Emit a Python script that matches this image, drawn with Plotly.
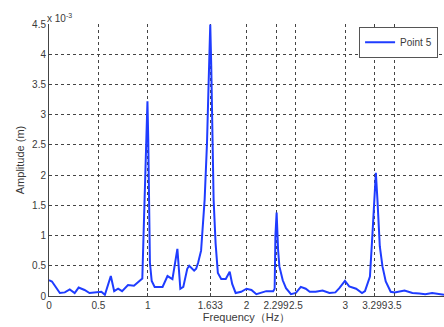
import plotly.graph_objects as go

# Frequency (Hz)
freq = [0.0, 0.03, 0.11, 0.16, 0.21, 0.26, 0.30, 0.36, 0.41, 0.47, 0.53, 0.566,
        0.60, 0.626, 0.66, 0.70, 0.74, 0.80, 0.86, 0.92, 0.945, 0.96, 0.985, 0.997,
        1.005, 1.015, 1.022, 1.04, 1.07, 1.15, 1.20, 1.25, 1.28, 1.30, 1.33, 1.36,
        1.40, 1.42, 1.47, 1.49, 1.51, 1.54, 1.576, 1.60, 1.616, 1.633, 1.643, 1.653,
        1.667, 1.687, 1.71, 1.744, 1.79, 1.83, 1.855, 1.89, 1.946, 2.0, 2.05, 2.1,
        2.15, 2.2, 2.27, 2.285, 2.293, 2.305, 2.32, 2.333, 2.367, 2.40, 2.45, 2.50,
        2.55, 2.60, 2.64, 2.70, 2.77, 2.84, 2.90, 2.94, 2.997, 3.04, 3.11, 3.17,
        3.20, 3.25, 3.276, 3.293, 3.31, 3.326, 3.35, 3.377, 3.41, 3.46, 3.5, 3.6,
        3.68, 3.75, 3.81, 3.88, 3.95, 4.0]

# Amplitude (x 1e-3 m)
amp = [0.26, 0.24, 0.05, 0.06, 0.11, 0.05, 0.14, 0.10, 0.05, 0.06, 0.07, 0.02,
       0.22, 0.33, 0.08, 0.12, 0.08, 0.18, 0.17, 0.25, 0.29, 1.15, 2.5, 3.22,
       2.6, 1.2, 0.55, 0.25, 0.15, 0.15, 0.33, 0.28, 0.55, 0.78, 0.12, 0.15,
       0.45, 0.5, 0.42, 0.45, 0.55, 0.75, 1.59, 2.53, 3.5, 4.49, 3.8, 2.7,
       1.59, 0.87, 0.38, 0.28, 0.28, 0.4, 0.2, 0.05, 0.07, 0.12, 0.1, 0.03,
       0.06, 0.08, 0.08, 0.12, 1.0, 1.38, 0.76, 0.49, 0.26, 0.13, 0.03, 0.05,
       0.15, 0.12, 0.07, 0.07, 0.09, 0.05, 0.06, 0.13, 0.25, 0.16, 0.12, 0.05,
       0.08, 0.32, 1.04, 1.64, 2.04, 1.59, 0.82, 0.49, 0.24, 0.07, 0.06, 0.09,
       0.05, 0.04, 0.03, 0.05, 0.03, 0.02]

x_ticks = [0, 0.5, 1, 1.633, 2, 2.299, 2.5, 3, 3.299, 3.5]
x_ticktext = ["0", "0.5", "1", "1.633", "2", "2.299", "2.5", "3", "3.299", "3.5"]
y_ticks = [0, 0.5, 1, 1.5, 2, 2.5, 3, 3.5, 4, 4.5]
y_ticktext = ["0", "0.5", "1", "1.5", "2", "2.5", "3", "3.5", "4", "4.5"]

FONT = "Liberation Sans, Arial, sans-serif"
TXT = "#3a3a3a"

fig = go.Figure()
fig.add_trace(go.Scatter(x=freq, y=amp, mode="lines", name="Point 5",
                         line=dict(color="#1f3cff", width=2)))

fig.update_layout(
    width=444, height=327,
    margin=dict(l=49, r=0, t=24, b=31),
    paper_bgcolor="white", plot_bgcolor="white",
    font=dict(family=FONT, size=10, color=TXT),
    showlegend=True,
    legend=dict(x=0.985, y=0.99, xanchor="right", yanchor="top",
                bgcolor="white", bordercolor="#555", borderwidth=1,
                itemwidth=30, tracegroupgap=0,
                font=dict(size=10, color=TXT)),
    xaxis=dict(range=[0, 4], tickvals=x_ticks, ticktext=x_ticktext, tickangle=0,
               showgrid=True, gridcolor="#444", griddash="dot", gridwidth=1,
               showline=True, linecolor="#444", linewidth=1,
               ticks="inside", ticklen=3, tickcolor="#444",
               zeroline=False, automargin=False,
               title=dict(text="Frequency（Hz）", font=dict(size=11, color=TXT), standoff=3)),
    yaxis=dict(range=[0, 4.5], tickvals=y_ticks, ticktext=y_ticktext,
               showgrid=True, gridcolor="#444", griddash="dot", gridwidth=1,
               showline=True, linecolor="#444", linewidth=1,
               ticks="inside", ticklen=3, tickcolor="#444",
               zeroline=False, automargin=False,
               title=dict(text="Amplitude (m)", font=dict(size=11, color=TXT), standoff=5)),
)

fig.add_annotation(x=0, y=1, xref="paper", yref="paper", xanchor="left", yanchor="bottom",
                   text="x 10<sup>-3</sup>", showarrow=False,
                   font=dict(size=10, color=TXT), xshift=-4, yshift=-2)

fig.write_html("out.html", config={"displayModeBar": False},
               post_script="document.body.style.margin='0';document.body.style.overflow='hidden';")
